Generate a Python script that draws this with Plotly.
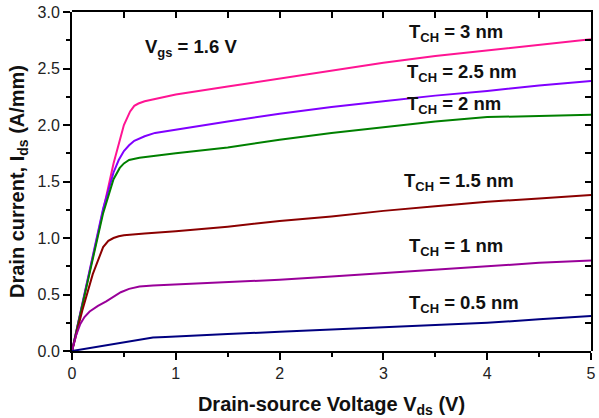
import plotly.graph_objects as go

# T_CH = 3 nm
x_t30 = [0, 0.1, 0.2, 0.3, 0.4, 0.5, 0.56, 0.6, 0.64, 0.7, 0.8, 1.0, 1.5, 2.0, 2.5, 3.0, 3.5, 4.0, 4.5, 5.0]
y_t30 = [0, 0.42, 0.84, 1.26, 1.66, 2.0, 2.12, 2.17, 2.19, 2.21, 2.23, 2.27, 2.34, 2.41, 2.48, 2.55, 2.61, 2.66, 2.71, 2.76]
# T_CH = 2.5 nm
x_t25 = [0, 0.1, 0.2, 0.3, 0.4, 0.45, 0.5, 0.55, 0.6, 0.7, 0.8, 1.0, 1.5, 2.0, 2.5, 3.0, 3.5, 4.0, 4.5, 5.0]
y_t25 = [0, 0.42, 0.84, 1.26, 1.58, 1.69, 1.77, 1.82, 1.86, 1.90, 1.93, 1.96, 2.03, 2.10, 2.16, 2.21, 2.26, 2.30, 2.35, 2.39]
# T_CH = 2 nm
x_t20 = [0, 0.1, 0.2, 0.3, 0.4, 0.46, 0.5, 0.55, 0.65, 0.8, 1.0, 1.5, 2.0, 2.5, 3.0, 3.5, 4.0, 4.5, 5.0]
y_t20 = [0, 0.41, 0.82, 1.22, 1.52, 1.62, 1.66, 1.69, 1.71, 1.73, 1.75, 1.80, 1.87, 1.93, 1.98, 2.03, 2.07, 2.08, 2.09]
# T_CH = 1.5 nm
x_t15 = [0, 0.1, 0.2, 0.3, 0.35, 0.4, 0.45, 0.5, 0.7, 1.0, 1.5, 2.0, 2.5, 3.0, 3.5, 4.0, 4.5, 5.0]
y_t15 = [0, 0.36, 0.68, 0.92, 0.975, 1.0, 1.015, 1.025, 1.04, 1.06, 1.10, 1.15, 1.19, 1.24, 1.28, 1.32, 1.35, 1.38]
# T_CH = 1 nm
x_t10 = [0, 0.04, 0.08, 0.12, 0.17, 0.25, 0.33, 0.4, 0.47, 0.55, 0.65, 0.78, 1.0, 1.5, 2.0, 2.5, 3.0, 3.5, 4.0, 4.5, 5.0]
y_t10 = [0, 0.14, 0.24, 0.30, 0.35, 0.40, 0.44, 0.48, 0.52, 0.55, 0.57, 0.58, 0.59, 0.61, 0.63, 0.66, 0.69, 0.72, 0.75, 0.78, 0.80]
# T_CH = 0.5 nm
x_t05 = [0, 0.2, 0.4, 0.6, 0.7, 0.78, 0.9, 1.0, 1.5, 2.0, 2.5, 3.0, 3.5, 4.0, 4.5, 5.0]
y_t05 = [0, 0.03, 0.065, 0.095, 0.11, 0.12, 0.125, 0.13, 0.15, 0.17, 0.19, 0.21, 0.23, 0.25, 0.28, 0.31]

series = [
    ("T_CH = 3 nm", x_t30, y_t30, "#FF1493"),
    ("T_CH = 2.5 nm", x_t25, y_t25, "#8000FF"),
    ("T_CH = 2 nm", x_t20, y_t20, "#008000"),
    ("T_CH = 1.5 nm", x_t15, y_t15, "#8B0000"),
    ("T_CH = 1 nm", x_t10, y_t10, "#990099"),
    ("T_CH = 0.5 nm", x_t05, y_t05, "#000080"),
]

# label positions (data coords) and texts
label_texts = ["T<sub>CH</sub> = 3 nm", "T<sub>CH</sub> = 2.5 nm", "T<sub>CH</sub> = 2 nm",
               "T<sub>CH</sub> = 1.5 nm", "T<sub>CH</sub> = 1 nm", "T<sub>CH</sub> = 0.5 nm"]
label_x = [3.70, 3.76, 3.68, 3.73, 3.70, 3.78]
label_y = [2.81, 2.46, 2.18, 1.50, 0.92, 0.42]

fig = go.Figure()
for i, (name, xs, ys, c) in enumerate(series):
    # last series drawn on the second (top/right-axis) subplot, which shares identical ranges/domain
    on_mirror = (i == len(series) - 1)
    fig.add_trace(go.Scatter(x=xs, y=ys, mode="lines", name=name,
                             line=dict(color=c, width=2),
                             xaxis="x2" if on_mirror else "x",
                             yaxis="y2" if on_mirror else "y",
                             showlegend=False))

font_family = "Liberation Sans, Arial, sans-serif"
for t, lx, ly in zip(label_texts, label_x, label_y):
    fig.add_annotation(x=lx, y=ly, text="<b>" + t + "</b>", showarrow=False,
                       font=dict(family=font_family, size=18.5, color="#111"))
fig.add_annotation(x=1.15, y=2.68, text="<b>V<sub>gs</sub> = 1.6 V</b>", showarrow=False,
                   font=dict(family=font_family, size=18.5, color="#111"))

axis_common = dict(showline=True, linecolor="black", linewidth=2, showgrid=False, zeroline=False,
                   automargin=False)
fig.update_layout(
    width=599, height=418,
    margin=dict(l=72, r=8, t=12, b=67),
    paper_bgcolor="white", plot_bgcolor="rgba(0,0,0,0)",
    font=dict(family=font_family, color="#222"),
    xaxis=dict(range=[0, 5], domain=[0, 1], dtick=1, ticks="outside", ticklen=7, tickwidth=1.5,
               tickcolor="black",
               minor=dict(ticks="outside", ticklen=4, dtick=0.5, tickcolor="black", tickwidth=1.5),
               tickfont=dict(size=16, color="#222"),
               title=dict(text="<b>Drain-source Voltage V<sub>ds</sub> (V)</b>",
                          font=dict(size=20, color="#111"), standoff=20),
               **axis_common),
    yaxis=dict(range=[0, 3], domain=[0, 1], dtick=0.5, tickformat=".1f", ticks="outside", ticklen=7,
               tickwidth=1.5, tickcolor="black",
               minor=dict(ticks="outside", ticklen=4, dtick=0.25, tickcolor="black", tickwidth=1.5),
               tickfont=dict(size=16, color="#222"),
               title=dict(text="<b>Drain current, I<sub>ds</sub> (A/mm)</b>",
                          font=dict(size=20, color="#111"), standoff=8),
               **axis_common),
    xaxis2=dict(range=[0, 5], domain=[0, 1], side="top", anchor="y2", tickmode="linear", tick0=0,
                dtick=0.5, ticks="inside", ticklen=6, tickwidth=1.5, tickcolor="black",
                showticklabels=False, **axis_common),
    yaxis2=dict(range=[0, 3], domain=[0, 1], side="right", anchor="x2", tickmode="linear", tick0=0,
                dtick=0.25, ticks="inside", ticklen=6, tickwidth=1.5, tickcolor="black",
                showticklabels=False, **axis_common),
)

fig.write_html("out.html")
